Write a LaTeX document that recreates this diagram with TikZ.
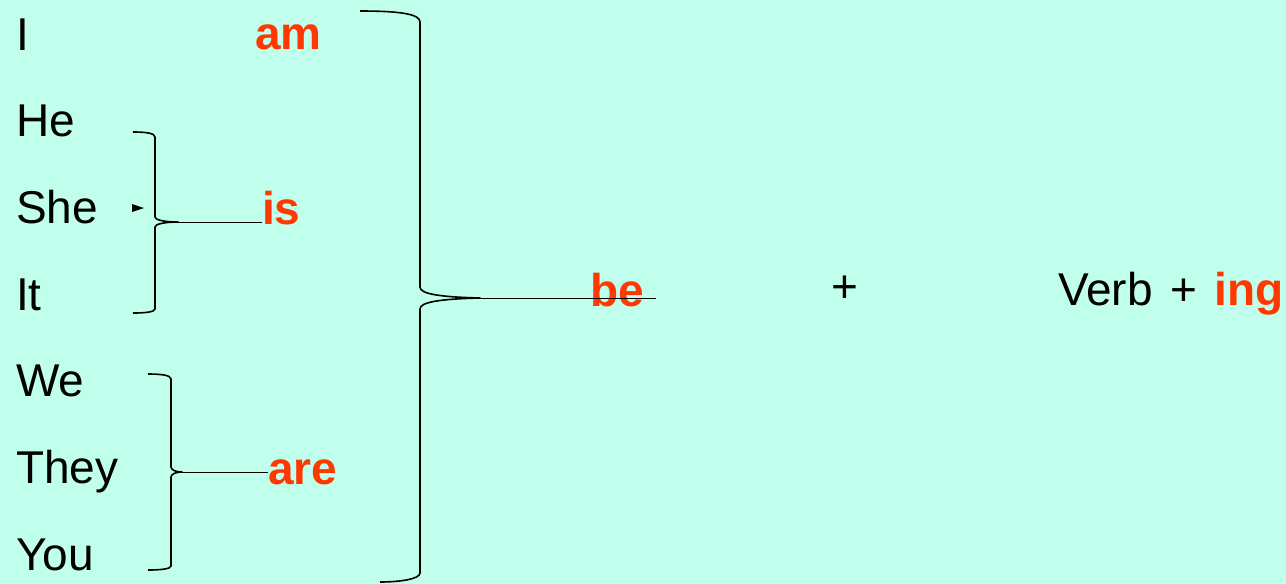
\documentclass[tikz,border=0pt]{standalone}
\usepackage{fontspec}
\setmainfont{Liberation Sans}
\usepackage{tikz}
\usepackage{xcolor}
\definecolor{bgmint}{RGB}{192,255,236}
\definecolor{verbred}{RGB}{255,55,0}
\tikzset{
	pron/.style={anchor=base west, inner sep=0pt, font=\fontsize{46}{50}\selectfont},
	form/.style={anchor=base west, inner sep=0pt, text=verbred, font=\fontsize{46}{50}\selectfont\bfseries},
	brc/.style={line width=1.6pt, line join=round},
	tail/.style={line width=0.9pt}
}

\begin{document}
\begin{tikzpicture}[x=1pt,y=-1pt]
			\fill[color=bgmint] (0,0) rectangle (1286,584);
			\useasboundingbox (0,0) rectangle (1286,584);
			\foreach \w [count=\i] in {I,He,She,It,We,They,You} {
				\node[pron] (p\i) at (16, {50+86.67*(\i-1)}) {\w};
			}
			\node[form] (am) at (255,49) {am};
			\node[form] (is) at (262,224) {is};
			\node[form] (are) at (268,484) {are};
			\node[form] (be) at (590,306) {be};
			\node[pron, anchor=center] (plus) at (845,289) {+};
			\node[pron] (verb) at (1058,305) {Verb\hspace{17.3pt}+\hspace{17.3pt}\textcolor{verbred}{\bfseries ing}};
			\coordinate (tipbe) at (480,298);
			\coordinate (tipis) at (178,222);
			\coordinate (tipare) at (182,472);
%			big brace
			\draw[brc] (360,11) .. controls (400,11) and (420,14) .. (420,22) -- (420,287) .. controls (420,294) and (440,297) .. (tipbe)
				.. controls (440,299) and (420,302) .. (420,309) -- (420,573) .. controls (420,579) and (400,582) .. (380,582);
			\draw[tail] (tipbe) -- ([xshift=12pt]be.east |- tipbe);
%			is brace
			\draw[brc] (133,132) .. controls (145,132) and (155,133) .. (155,137) -- (155,217) .. controls (155,220) and (165,222) .. (tipis)
				.. controls (165,222) and (155,224) .. (155,227) -- (155,309) .. controls (155,312) and (145,313) .. (133,313);
			\draw[tail] (tipis) -- (is.west |- tipis);
			\fill (132,204) -- (144,208) -- (132,212) -- cycle;
%			are brace
			\draw[brc] (148,374) .. controls (160,374) and (171,375) .. (171,379) -- (171,467) .. controls (171,470) and (176,472) .. (tipare)
				.. controls (176,472) and (171,474) .. (171,477) -- (171,566) .. controls (171,569) and (160,570) .. (148,570);
			\draw[tail] (tipare) -- (are.west |- tipare);
		\end{tikzpicture}
\end{document}
